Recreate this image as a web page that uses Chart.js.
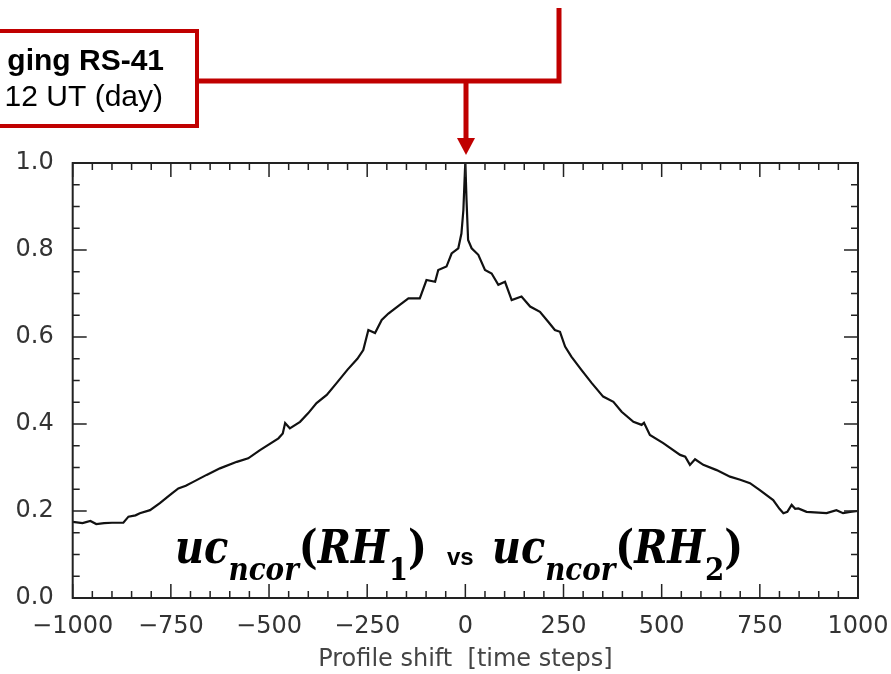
<!DOCTYPE html>
<html>
<head>
<meta charset="utf-8">
<script src="https://cdn.jsdelivr.net/npm/chart.js@4.4.0/dist/chart.umd.min.js"></script>
<style>
  body { margin: 0; background: #fff; }
</style>
</head>
<body>
<canvas id="chart" width="891" height="674"></canvas>
<script>
// profile shift (time steps) and correlation
const shifts = [-1000, -975, -955, -940, -920, -900, -871, -858, -840, -829, -803, -778, -752, -731, -712, -693,
  -659, -625, -582, -553, -523, -476, -465, -459, -447, -421, -400, -379, -353, -328, -300, -275,
  -260, -247, -230, -213, -196, -167, -145, -116, -99, -77, -69, -48, -35, -18, -10, -5, -1, 0,
  3, 7, 16, 33, 50, 67, 84, 101, 118, 143, 165, 190, 211, 228, 241, 254, 270, 295,
  322, 351, 377, 398, 428, 449, 455, 470, 504, 547, 560, 572, 585, 606, 640, 674, 700, 725,
  750, 784, 800, 810, 820, 831, 840, 848, 869, 920, 945, 962, 980, 1000];
const corr = [0.175, 0.172, 0.177, 0.170, 0.172, 0.173, 0.173, 0.187, 0.190, 0.195, 0.202, 0.218, 0.237, 0.252, 0.258, 0.267,
  0.283, 0.298, 0.313, 0.321, 0.340, 0.367, 0.378, 0.402, 0.390, 0.405, 0.425, 0.448, 0.467, 0.494, 0.525, 0.550,
  0.570, 0.616, 0.609, 0.639, 0.654, 0.674, 0.689, 0.689, 0.731, 0.727, 0.754, 0.762, 0.792, 0.804, 0.838, 0.892, 0.984, 1.0,
  0.915, 0.823, 0.804, 0.789, 0.754, 0.746, 0.720, 0.727, 0.685, 0.693, 0.670, 0.658, 0.635, 0.616, 0.612, 0.578, 0.555, 0.525,
  0.494, 0.463, 0.451, 0.428, 0.405, 0.398, 0.403, 0.375, 0.356, 0.329, 0.325, 0.306, 0.319, 0.306, 0.294, 0.279, 0.272, 0.264,
  0.248, 0.225, 0.205, 0.195, 0.198, 0.214, 0.205, 0.206, 0.198, 0.195, 0.202, 0.195, 0.198, 0.200];

const xTicks = [-1000, -750, -500, -250, 0, 250, 500, 750, 1000];
const yTicks = [0.0, 0.2, 0.4, 0.6, 0.8, 1.0];

const RED = '#c00000';

// inward ticks on all four sides plus the frame
const framePlugin = {
  id: 'frame',
  afterDraw(chart) {
    const { ctx, chartArea: a, scales: { x, y } } = chart;
    ctx.save();
    ctx.strokeStyle = '#222';
    ctx.lineWidth = 1.5;
    ctx.beginPath();
    for (let v = -1000; v <= 1000; v += 50) {
      const px = x.getPixelForValue(v);
      const len = xTicks.includes(v) ? 14 : 7;
      ctx.moveTo(px, a.bottom); ctx.lineTo(px, a.bottom - len);
      ctx.moveTo(px, a.top); ctx.lineTo(px, a.top + len);
    }
    for (let i = 0; i <= 20; i++) {
      const v = i * 0.05;
      const py = y.getPixelForValue(v);
      const len = i % 4 === 0 ? 14 : 7;
      ctx.moveTo(a.left, py); ctx.lineTo(a.left + len, py);
      ctx.moveTo(a.right, py); ctx.lineTo(a.right - len, py);
    }
    ctx.stroke();
    ctx.lineWidth = 2;
    ctx.strokeRect(a.left, a.top, a.right - a.left, a.bottom - a.top);
    ctx.restore();
  }
};

function drawExpr(ctx, x0, width, base, parts) {
  let total = 0;
  parts.forEach(p => { ctx.font = p.f; total += ctx.measureText(p.t).width; });
  ctx.save();
  ctx.translate(x0, 0);
  ctx.scale(width / total, 1);
  let cx = 0;
  parts.forEach(p => {
    ctx.font = p.f;
    ctx.fillText(p.t, cx, base + (p.dy || 0));
    cx += ctx.measureText(p.t).width;
  });
  ctx.restore();
}

const labelPlugin = {
  id: 'labels',
  afterDraw(chart) {
    const ctx = chart.ctx;
    ctx.save();
    ctx.fillStyle = '#000';
    ctx.textBaseline = 'alphabetic';
    ctx.textAlign = 'left';
    const big = 'italic bold 46px "DejaVu Serif"';
    const sub = 'italic bold 32px "DejaVu Serif"';
    const up = 'bold 46px "DejaVu Serif"';
    const upSub = 'bold 32px "DejaVu Serif"';
    const expr = n => [
      { t: 'uc', f: big }, { t: 'ncor', f: sub, dy: 17 }, { t: '(', f: up },
      { t: 'RH', f: big }, { t: n, f: upSub, dy: 17 }, { t: ')', f: up }
    ];
    drawExpr(ctx, 175, 252, 563, expr('1'));
    drawExpr(ctx, 492, 251, 563, expr('2'));
    ctx.font = 'bold 24px "Liberation Sans"';
    ctx.fillText('vs', 447, 565);

    // annotation box and red connector
    ctx.strokeStyle = RED;
    ctx.fillStyle = RED;
    ctx.lineWidth = 4;
    ctx.strokeRect(-10, 31, 207, 95);
    ctx.lineWidth = 5;
    ctx.beginPath();
    ctx.moveTo(199, 81); ctx.lineTo(559, 81); ctx.lineTo(559, 8);
    ctx.moveTo(466, 81); ctx.lineTo(466, 140);
    ctx.stroke();
    ctx.beginPath();
    ctx.moveTo(457, 138); ctx.lineTo(475, 138); ctx.lineTo(466, 155);
    ctx.closePath();
    ctx.fill();

    ctx.fillStyle = '#000';
    ctx.textAlign = 'right';
    ctx.font = 'bold 30px "Liberation Sans"';
    ctx.fillText('ging RS-41', 164, 70);
    ctx.font = '30px "Liberation Sans"';
    ctx.fillText('12 UT (day)', 163, 106);
    ctx.restore();
  }
};

new Chart(document.getElementById('chart'), {
  type: 'line',
  data: {
    datasets: [{
      data: shifts.map((s, i) => ({ x: s, y: corr[i] })),
      borderColor: '#111',
      borderWidth: 2.2,
      pointRadius: 0,
      tension: 0,
      fill: false
    }]
  },
  options: {
    responsive: false,
    animation: false,
    layout: { padding: { left: 0, top: 163, right: 33, bottom: 0 } },
    plugins: { legend: { display: false }, tooltip: { enabled: false } },
    scales: {
      x: {
        type: 'linear',
        min: -1000,
        max: 1000,
        afterFit: s => { s.height = 76; s.paddingLeft = 0; s.paddingRight = 0; },
        afterBuildTicks: s => { s.ticks = xTicks.map(v => ({ value: v })); },
        grid: { display: false, drawTicks: false },
        border: { display: false },
        ticks: {
          padding: 14,
          color: '#333',
          font: { family: 'DejaVu Sans', size: 24 },
          maxRotation: 0,
          callback: v => (v < 0 ? '\u2212' + Math.abs(v) : String(v))
        },
        title: {
          display: true,
          text: 'Profile shift  [time steps]',
          color: '#444',
          font: { family: 'DejaVu Sans', size: 24 },
          padding: { top: 5, bottom: 0 }
        }
      },
      y: {
        min: 0,
        max: 1,
        afterFit: s => { s.width = 72.7; s.paddingTop = 0; s.paddingBottom = 0; },
        afterBuildTicks: s => { s.ticks = yTicks.map(v => ({ value: v })); },
        grid: { display: false, drawTicks: false },
        border: { display: false },
        ticks: {
          padding: 19,
          color: '#333',
          font: { family: 'DejaVu Sans', size: 24 },
          callback: v => v.toFixed(1)
        }
      }
    }
  },
  plugins: [framePlugin, labelPlugin]
});
</script>
</body>
</html>
